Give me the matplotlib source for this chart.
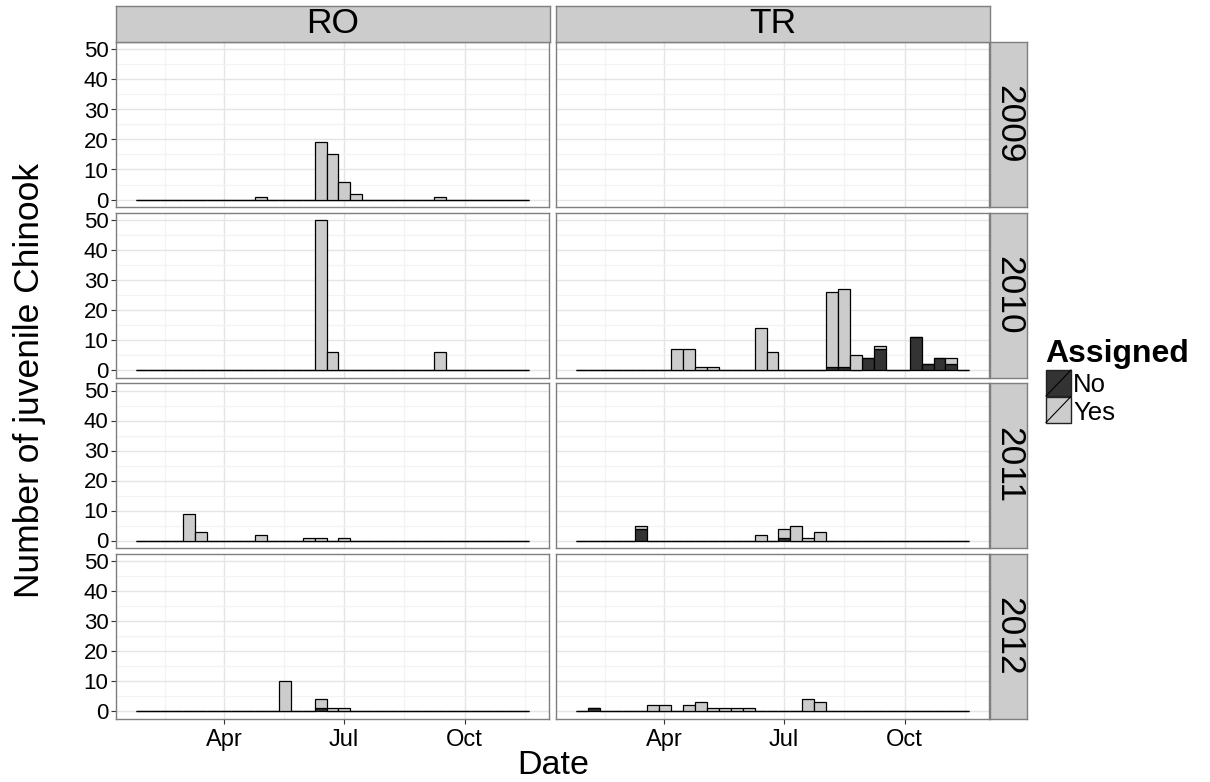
import numpy as np
import matplotlib.pyplot as plt
import matplotlib.dates as mdates
from matplotlib.patches import Rectangle
from matplotlib.lines import Line2D

plt.rcParams['font.family'] = ['Liberation Sans', 'DejaVu Sans']

sites = ['RO', 'TR']
years = ['2009', '2010', '2011', '2012']

# histogram bins (only month/day matter, the year is a dummy one)
bin_start = np.datetime64('2013-01-23T10:00')
bin_days = 9.085
n_bins = 33

# counts per panel: bin index, not assigned (No), assigned (Yes)
ro_2009_bin = [10, 15, 16, 17, 18, 25]
ro_2009_no = [0, 0, 0, 0, 0, 0]
ro_2009_yes = [1, 19, 15, 6, 2, 1]

ro_2010_bin = [15, 16, 25]
ro_2010_no = [0, 0, 0]
ro_2010_yes = [50, 6, 6]

ro_2011_bin = [4, 5, 10, 14, 15, 17]
ro_2011_no = [0, 0, 0, 0, 0, 0]
ro_2011_yes = [9, 3, 2, 1, 1, 1]

ro_2012_bin = [12, 15, 16, 17]
ro_2012_no = [0, 1, 0, 0]
ro_2012_yes = [10, 3, 1, 1]

tr_2009_bin = []
tr_2009_no = []
tr_2009_yes = []

tr_2010_bin = [8, 9, 10, 11, 15, 16, 21, 22, 23, 24, 25, 28, 29, 30, 31]
tr_2010_no = [0, 0, 0, 0, 0, 0, 1, 1, 0, 4, 7, 11, 2, 4, 2]
tr_2010_yes = [7, 7, 1, 1, 14, 6, 25, 26, 5, 0, 1, 0, 0, 0, 2]

tr_2011_bin = [5, 15, 17, 18, 19, 20]
tr_2011_no = [4, 0, 1, 0, 0, 0]
tr_2011_yes = [1, 2, 3, 5, 1, 3]

tr_2012_bin = [1, 6, 7, 9, 10, 11, 12, 13, 14, 19, 20]
tr_2012_no = [1, 0, 0, 0, 0, 0, 0, 0, 0, 0, 0]
tr_2012_yes = [0, 2, 2, 2, 3, 1, 1, 1, 1, 4, 3]

panels = {
    ('RO', '2009'): (ro_2009_bin, ro_2009_no, ro_2009_yes),
    ('RO', '2010'): (ro_2010_bin, ro_2010_no, ro_2010_yes),
    ('RO', '2011'): (ro_2011_bin, ro_2011_no, ro_2011_yes),
    ('RO', '2012'): (ro_2012_bin, ro_2012_no, ro_2012_yes),
    ('TR', '2009'): (tr_2009_bin, tr_2009_no, tr_2009_yes),
    ('TR', '2010'): (tr_2010_bin, tr_2010_no, tr_2010_yes),
    ('TR', '2011'): (tr_2011_bin, tr_2011_no, tr_2011_yes),
    ('TR', '2012'): (tr_2012_bin, tr_2012_no, tr_2012_yes),
}

tick_dates = ['2013-04-01', '2013-07-01', '2013-10-01']
tick_labels = ['Apr', 'Jul', 'Oct']
quarter_dates = ['2013-01-01', '2013-04-01', '2013-07-01', '2013-10-01', '2014-01-01']

legend_labels = ['No', 'Yes']
fill_no = '#333333'
fill_yes = '#CCCCCC'

W, H = 1210, 782
fig = plt.figure(figsize=(W / 100, H / 100), dpi=100)


def box(x0, y0, x1, y1):
    # pixel box (top-left origin) -> figure fraction rect
    return [x0 / W, 1 - y1 / H, (x1 - x0) / W, (y1 - y0) / H]


edges = mdates.date2num(bin_start) + bin_days * np.arange(n_bins + 1)
span = edges[-1] - edges[0]
qnum = mdates.date2num(np.array(quarter_dates, dtype='datetime64[D]'))
minor_x = (qnum[:-1] + qnum[1:]) / 2
major_x = mdates.date2num(np.array(tick_dates, dtype='datetime64[D]'))

col_x = [(116, 549), (556, 989)]
row_top = [42, 212.5, 383, 553.5]
row_h = 165

for c, site in enumerate(sites):
    for r, year in enumerate(years):
        x0, x1 = col_x[c]
        y0 = row_top[r]
        ax = fig.add_axes(box(x0, y0, x1, y0 + row_h))
        bins, no, yes = panels[(site, year)]
        if len(bins):
            no_full = np.zeros(n_bins)
            yes_full = np.zeros(n_bins)
            no_full[bins] = no
            yes_full[bins] = yes
            ax.bar(edges[:-1], no_full, width=bin_days, align='edge',
                   color=fill_no, edgecolor='black', linewidth=0.9, zorder=3)
            ax.bar(edges[:-1], yes_full, bottom=no_full, width=bin_days, align='edge',
                   color=fill_yes, edgecolor='black', linewidth=0.9, zorder=3)
        ax.set_xlim(edges[0] - 0.05 * span, edges[-1] + 0.05 * span)
        ax.set_ylim(-2.5, 52.5)
        ax.set_xticks(major_x)
        ax.set_xticks(minor_x, minor=True)
        ax.set_yticks(range(0, 51, 10))
        ax.set_yticks(range(5, 50, 10), minor=True)
        ax.grid(which='major', color='#E5E5E5', linewidth=1.0, zorder=0)
        ax.grid(which='minor', color='#F3F3F3', linewidth=0.9, zorder=0)
        ax.set_axisbelow(True)
        for s in ax.spines.values():
            s.set_color('#7F7F7F')
            s.set_linewidth(1.0)
        ax.tick_params(which='minor', length=0)
        ax.tick_params(which='major', color='#333333', length=3.5, width=0.8)
        ax.tick_params(axis='y', labelsize=16, pad=2, left=(c == 0), labelleft=(c == 0))
        ax.set_yticklabels([str(v) for v in range(0, 51, 10)])
        ax.tick_params(axis='x', labelsize=17, pad=4, bottom=(r == 3), labelbottom=(r == 3))
        ax.set_xticklabels(tick_labels)

        # row strip on the right
        if c == 1:
            sax = fig.add_axes(box(990, y0, 1027, y0 + row_h))
            sax.set_facecolor('#CCCCCC')
            sax.set_xticks([])
            sax.set_yticks([])
            for s in sax.spines.values():
                s.set_color('#7F7F7F')
                s.set_linewidth(1.0)
            sax.text(0.5, 0.5, year, rotation=-90, ha='center', va='center',
                     fontsize=25.5, transform=sax.transAxes)

    # column strip on top
    x0, x1 = col_x[c]
    tax = fig.add_axes(box(x0, 5.5, x1 + 1, 42))
    tax.set_facecolor('#CCCCCC')
    tax.set_xticks([])
    tax.set_yticks([])
    for s in tax.spines.values():
        s.set_color('#7F7F7F')
        s.set_linewidth(1.0)
    tax.text(0.5, 0.5, site, ha='center', va='center', fontsize=25.5,
             transform=tax.transAxes)

fig.text(30 / W, 1 - 380 / H, 'Number of juvenile Chinook', rotation=90,
         ha='center', va='center', fontsize=25.5)
fig.text(553 / W, 1 - 765 / H, 'Date', ha='center', va='center', fontsize=24.5)

# legend
fig.text(1045 / W, 1 - 362 / H, 'Assigned', ha='left', va='baseline',
         fontsize=23, fontweight='bold')
for i, (lab, fc) in enumerate(zip(legend_labels, [fill_no, fill_yes])):
    ky0 = 370 + 26.5 * i
    fig.patches.append(Rectangle((1046 / W, 1 - (ky0 + 26) / H), 25 / W, 26 / H,
                                 transform=fig.transFigure, facecolor=fc,
                                 edgecolor='#222222', linewidth=1.0))
    fig.lines.append(Line2D([1046 / W, 1071 / W], [1 - (ky0 + 26) / H, 1 - ky0 / H],
                            transform=fig.transFigure, color='black', linewidth=0.8))
    fig.text(1073 / W, 1 - (384.5 + 29 * i) / H, lab, ha='left', va='center',
             fontsize=18.5)

fig.savefig('out.png', dpi=100)
